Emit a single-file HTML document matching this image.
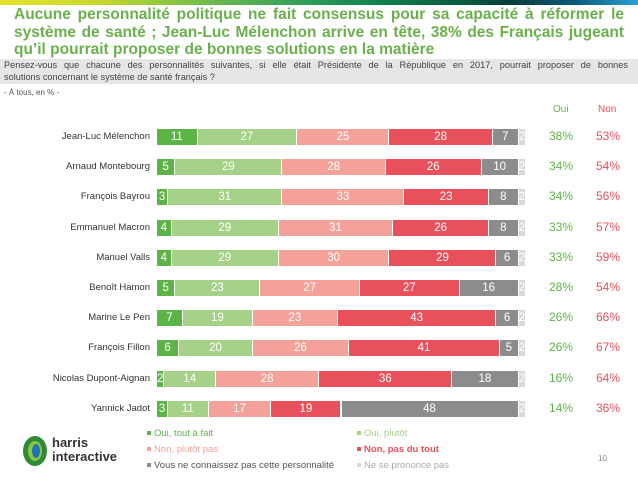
<!DOCTYPE html>
<html><head><meta charset="utf-8"><style>
body{margin:0;width:638px;height:479px;overflow:hidden;background:#fff;font-family:"Liberation Sans",sans-serif;position:relative}
.abs{position:absolute}
.jl{display:block;text-align:justify;text-align-last:justify}
</style></head><body>
<div class="abs" style="left:0;top:0;width:638px;height:5px;background:linear-gradient(90deg,#e5e32a 0%,#c8d82c 15%,#7cc04a 30%,#3aa35a 45%,#11864f 58%,#0c5b40 72%,#0a3d3a 80%,#0e5878 90%,#2aa0d8 100%)"></div>
<div class="abs" style="left:14px;top:6px;width:610px;font-size:15.5px;font-weight:bold;color:#6ab04c;line-height:17.5px">
<span class="jl">Aucune personnalité politique ne fait consensus pour sa capacité à réformer le</span>
<span class="jl">système de santé ; Jean-Luc Mélenchon arrive en tête, 38% des Français jugeant</span>
<span style="display:block">qu’il pourrait proposer de bonnes solutions en la matière</span></div>
<div class="abs" style="left:0;top:59px;width:638px;height:25px;background:#e6e6e6"></div>
<div class="abs" style="left:4px;top:59px;width:624px;font-size:9.2px;color:#444;line-height:12px">
<span class="jl">Pensez-vous que chacune des personnalités suivantes, si elle était Présidente de la République en 2017, pourrait proposer de bonnes</span>
<span style="display:block">solutions concernant le système de santé français ?</span></div>
<div class="abs" style="left:4px;top:88px;font-size:8px;color:#555">- À tous, en % -</div>
<div class="abs" style="left:553px;top:104px;font-size:10px;color:#6ab04c">Oui</div>
<div class="abs" style="left:598px;top:104px;font-size:10px;color:#e8505b">Non</div>
<div id="chart"></div>
<div class="abs" style="left:598px;top:454px;font-size:8px;color:#888">10</div>
<div class="abs" style="left:22px;top:435px;width:26px;height:32px">
<svg width="26" height="32"><ellipse cx="13" cy="16" rx="12" ry="15" fill="#2e8b3a"/><ellipse cx="13" cy="16" rx="7" ry="10" fill="#8cc63f"/><ellipse cx="14" cy="16" rx="4" ry="7" fill="#1f74b8"/></svg></div>
<div class="abs" style="left:52px;top:436px;font-size:13px;font-weight:bold;color:#333;line-height:14px">harris<br>interactive</div>
<script>
const names=["Jean-Luc Mélenchon","Arnaud Montebourg","François Bayrou","Emmanuel Macron","Manuel Valls","Benoît Hamon","Marine Le Pen","François Fillon","Nicolas Dupont-Aignan","Yannick Jadot"];
const ouiTout=[11,5,3,4,4,5,7,6,2,3];
const ouiPlutot=[27,29,31,29,29,23,19,20,14,11];
const nonPlutot=[25,28,33,31,30,27,23,26,28,17];
const nonTout=[28,26,23,26,29,27,43,41,36,19];
const inconnu=[7,10,8,8,6,16,6,5,18,48];
const nsp=[2,2,2,2,2,2,2,2,2,2];
const ouiTot=[38,34,34,33,33,28,26,26,16,14];
const nonTot=[53,54,56,57,59,54,66,67,64,36];
const seriesNames=["Oui, tout à fait","Oui, plutôt","Non, plutôt pas","Non, pas du tout","Vous ne connaissez pas cette personnalité","Ne se prononce pas"];
const series=[ouiTout,ouiPlutot,nonPlutot,nonTout,inconnu,nsp];
const colors=["#5cb446","#a6d189","#f4a19a","#e8505b","#8c8c8c","#d9d9d9"];
const x0=157,scale=3.69,y0=129,step=30.2,bh=16;
const xs=v=>v*scale;
const c=document.getElementById('chart');
names.forEach((n,i)=>{
  const y=y0+i*step;
  const l=document.createElement('div');
  l.className='abs';
  
  
  l.style.cssText=`right:${638-150}px;top:${y+2}px;font-size:9.5px;color:#333;white-space:nowrap`;
  l.textContent=n;c.appendChild(l);
  let acc=0;
  series.forEach((s,k)=>{
    const v=s[i];
    const b=document.createElement('div');
    b.className='abs';
    
    
    b.style.cssText=`left:${x0+xs(acc)}px;top:${y}px;width:${xs(v)-1}px;height:${bh}px;background:${colors[k]};color:#fff;font-size:11.5px;text-align:center;line-height:${bh}px;overflow:hidden`;
    b.textContent=v;c.appendChild(b);acc+=v;
  });
  const o=document.createElement('div');
  o.className='abs';
  
  
  o.style.cssText=`left:549px;top:${y}px;font-size:12px;color:#5cb446`;
  o.textContent=ouiTot[i]+'%';c.appendChild(o);
  const no=document.createElement('div');
  no.className='abs';
  
  
  no.style.cssText=`left:596px;top:${y}px;font-size:12px;color:#e8505b`;
  no.textContent=nonTot[i]+'%';c.appendChild(no);
});
const lx=[147,147,147,357,357,357],ly=[432,448,464,432,448,464];
const order=[0,2,4,1,3,5];
order.forEach((k,j)=>{
  const e=document.createElement('div');
  e.className='abs';
  
  
  const bold=(k==3)?'font-weight:bold;':'';
  e.style.cssText=`left:${lx[j]}px;top:${ly[j]-4}px;font-size:9.5px;${bold}color:${k==4?'#555':(k==5?'#aaa':colors[k])};white-space:nowrap`;
  e.innerHTML=`<span style="display:inline-block;width:4px;height:4px;background:${colors[k]};margin-right:3px;vertical-align:middle"></span>`+seriesNames[k];
  c.appendChild(e);
});
</script>
</body></html>
